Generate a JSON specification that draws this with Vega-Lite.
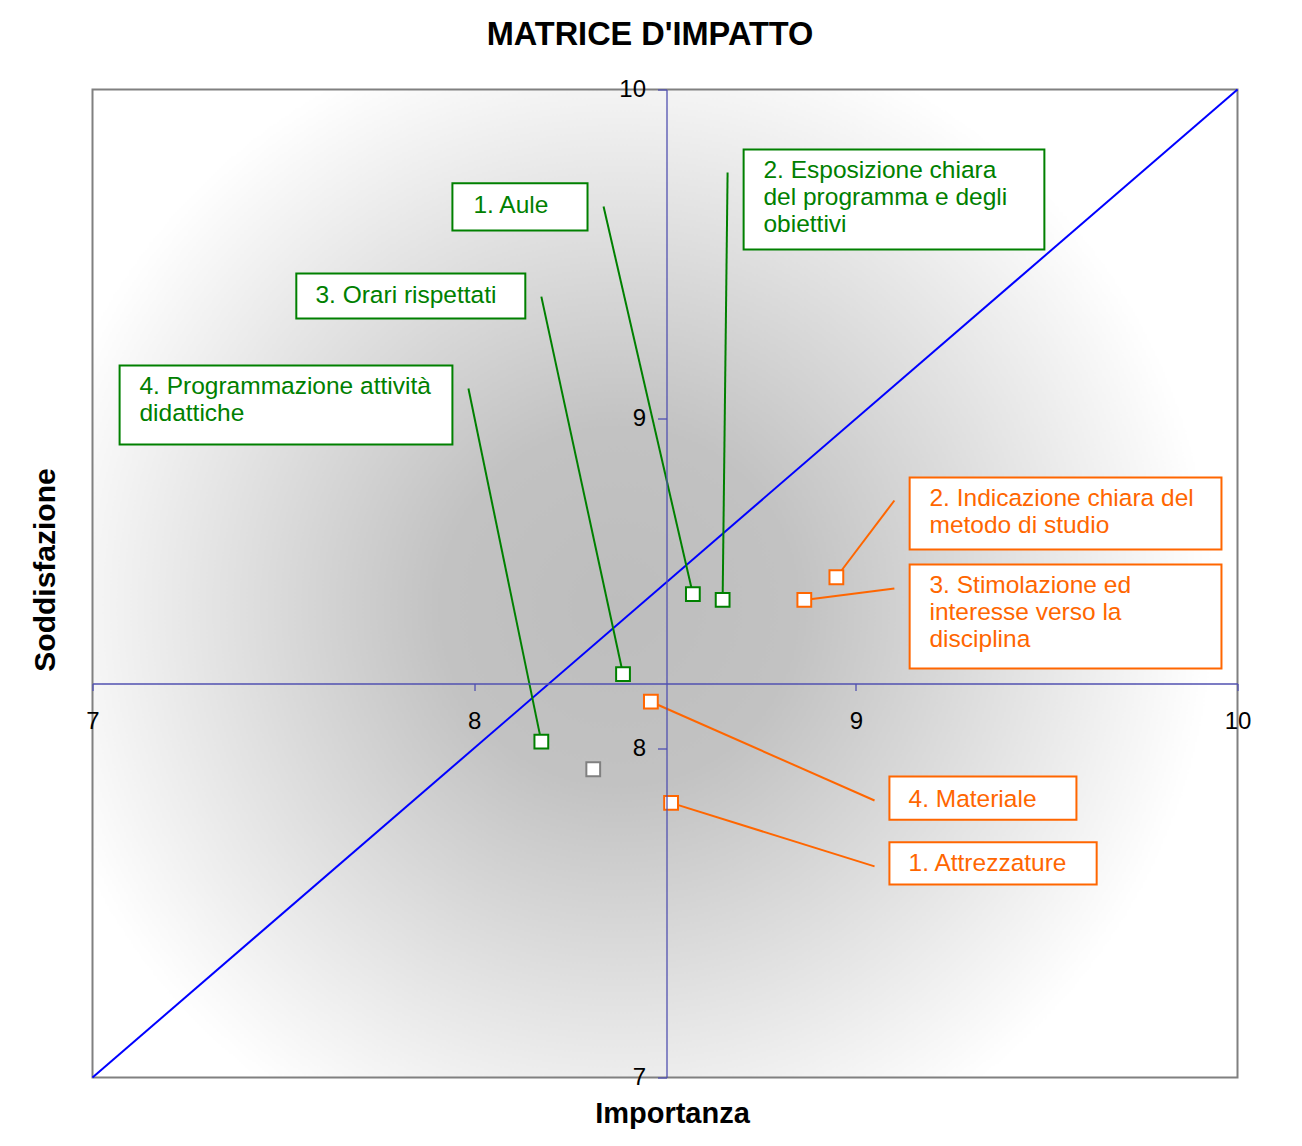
{
  "$schema": "https://vega.github.io/schema/vega-lite/v6.json",
  "width": 1145,
  "height": 988,
  "autosize": {"type": "none"},
  "padding": {"left": 92.5, "top": 89.5, "right": 64.5, "bottom": 68.5},
  "background": "white",
  "config": {"view": {"stroke": null}, "font": "Liberation Sans"},
  "title": {"text": "MATRICE D'IMPATTO", "fontSize": 32.5, "fontWeight": "bold", "font": "Liberation Sans", "color": "black", "frame": "group", "anchor": "middle", "dx": -15, "offset": 26},
  "datasets": {
    "points": [
      {"item": "1. Aule", "grp": "verde", "x": 8.573, "y": 8.468},
      {"item": "2. Esposizione", "grp": "verde", "x": 8.651, "y": 8.450},
      {"item": "3. Orari", "grp": "verde", "x": 8.390, "y": 8.225},
      {"item": "4. Programmazione", "grp": "verde", "x": 8.176, "y": 8.020},
      {"item": "altro", "grp": "grigio", "x": 8.312, "y": 7.936},
      {"item": "2. Indicazione", "grp": "arancio", "x": 8.949, "y": 8.519},
      {"item": "3. Stimolazione", "grp": "arancio", "x": 8.865, "y": 8.450},
      {"item": "4. Materiale", "grp": "arancio", "x": 8.463, "y": 8.141},
      {"item": "1. Attrezzature", "grp": "arancio", "x": 8.516, "y": 7.834}
    ],
    "labels": [
      {"grp": "verde", "text": "1. Aule", "tx": 7.998, "ty": 9.645, "bx1": 7.943, "bx2": 8.297, "by1": 9.715, "by2": 9.572, "lx": 8.339, "ly": 9.645, "px": 8.573, "py": 8.468},
      {"grp": "verde", "text": "2. Esposizione chiara\ndel programma e degli\nobiettivi", "tx": 8.758, "ty": 9.752, "bx1": 8.706, "bx2": 9.494, "by1": 9.818, "by2": 9.514, "lx": 8.664, "ly": 9.748, "px": 8.651, "py": 8.450},
      {"grp": "verde", "text": "3. Orari rispettati", "tx": 7.584, "ty": 9.374, "bx1": 7.534, "bx2": 8.134, "by1": 9.441, "by2": 9.305, "lx": 8.176, "ly": 9.371, "px": 8.390, "py": 8.225},
      {"grp": "verde", "text": "4. Programmazione attività\ndidattiche", "tx": 7.123, "ty": 9.096, "bx1": 7.071, "bx2": 7.943, "by1": 9.162, "by2": 8.922, "lx": 7.985, "ly": 9.092, "px": 8.176, "py": 8.020},
      {"grp": "arancio", "text": "2. Indicazione chiara del\nmetodo di studio", "tx": 9.193, "ty": 8.756, "bx1": 9.141, "bx2": 9.958, "by1": 8.822, "by2": 8.603, "lx": 9.101, "ly": 8.752, "px": 8.949, "py": 8.519},
      {"grp": "arancio", "text": "3. Stimolazione ed\ninteresse verso la\ndisciplina", "tx": 9.193, "ty": 8.492, "bx1": 9.141, "bx2": 9.958, "by1": 8.558, "by2": 8.242, "lx": 9.101, "ly": 8.485, "px": 8.865, "py": 8.450},
      {"grp": "arancio", "text": "4. Materiale", "tx": 9.138, "ty": 7.844, "bx1": 9.088, "bx2": 9.578, "by1": 7.914, "by2": 7.783, "lx": 9.049, "ly": 7.841, "px": 8.463, "py": 8.141},
      {"grp": "arancio", "text": "1. Attrezzature", "tx": 9.138, "ty": 7.647, "bx1": 9.088, "bx2": 9.631, "by1": 7.714, "by2": 7.586, "lx": 9.049, "ly": 7.641, "px": 8.516, "py": 7.834}
    ]
  },
  "layer": [
    {
      "data": {"values": [{"x": 7, "x2": 10, "y": 7, "y2": 10}]},
      "mark": {
        "type": "rect",
        "stroke": "#808080",
        "strokeWidth": 2,
        "fill": {"gradient": "radial", "x1": 0.46, "y1": 0.52, "r1": 0, "x2": 0.46, "y2": 0.52, "r2": 0.52,
          "stops": [{"offset": 0, "color": "#bdbdbd"}, {"offset": 0.3, "color": "#c2c2c2"}, {"offset": 1, "color": "#ffffff"}]}
      },
      "encoding": {
        "x": {"field": "x", "type": "quantitative",
          "scale": {"domain": [7, 10], "nice": false, "zero": false},
          "axis": {"orient": "bottom", "offset": -394, "values": [7, 8, 9, 10], "format": "d", "grid": false, "zindex": 1,
            "domainColor": "#5050b0", "domainWidth": 1.3, "tickColor": "#5050b0", "tickWidth": 1.3, "tickSize": 7,
            "labelFontSize": 24, "labelColor": "black", "labelFont": "Liberation Sans", "labelPadding": 19, "labelFlush": false, "labelOverlap": false,
            "title": "Importanza", "titleFontSize": 29, "titleFontWeight": "bold", "titleColor": "black", "titleFont": "Liberation Sans",
            "titleX": 579.5, "titleY": 439, "titleBaseline": "alphabetic", "titleAlign": "center"}},
        "x2": {"field": "x2"},
        "y": {"field": "y", "type": "quantitative",
          "scale": {"domain": [7, 10], "nice": false, "zero": false},
          "axis": {"orient": "left", "offset": -574, "values": [7, 8, 9, 10], "format": "d", "grid": false, "zindex": 1,
            "domainColor": "#5050b0", "domainWidth": 1.3, "tickColor": "#5050b0", "tickWidth": 1.3, "tickSize": 9,
            "labelFontSize": 24, "labelColor": "black", "labelFont": "Liberation Sans", "labelPadding": 12, "labelFlush": false, "labelOverlap": false, "labelBaseline": "middle",
            "title": "Soddisfazione", "titleFontSize": 30, "titleFontWeight": "bold", "titleColor": "black", "titleFont": "Liberation Sans",
            "titleAngle": -90, "titleX": -612, "titleY": 480, "titleBaseline": "alphabetic", "titleAlign": "center"}},
        "y2": {"field": "y2"}
      }
    },
    {
      "data": {"values": [{"x": 7, "y": 7, "x2": 10, "y2": 10}]},
      "mark": {"type": "rule", "color": "#0000ff", "strokeWidth": 2},
      "encoding": {
        "x": {"field": "x", "type": "quantitative"},
        "y": {"field": "y", "type": "quantitative"},
        "x2": {"field": "x2"},
        "y2": {"field": "y2"}
      }
    },
    {
      "data": {"name": "labels"},
      "mark": {"type": "rule", "strokeWidth": 2},
      "encoding": {
        "x": {"field": "lx", "type": "quantitative"},
        "y": {"field": "ly", "type": "quantitative"},
        "x2": {"field": "px"},
        "y2": {"field": "py"},
        "color": {"field": "grp", "type": "nominal", "scale": {"domain": ["verde", "arancio", "grigio"], "range": ["#008000", "#ff6600", "#808080"]}, "legend": null}
      }
    },
    {
      "data": {"name": "points"},
      "mark": {"type": "square", "fill": "white", "fillOpacity": 1, "size": 190, "strokeWidth": 2, "opacity": 1},
      "encoding": {
        "x": {"field": "x", "type": "quantitative"},
        "y": {"field": "y", "type": "quantitative"},
        "stroke": {"field": "grp", "type": "nominal", "scale": {"domain": ["verde", "arancio", "grigio"], "range": ["#008000", "#ff6600", "#808080"]}, "legend": null}
      }
    },
    {
      "data": {"name": "labels"},
      "mark": {"type": "rect", "fill": "white", "strokeWidth": 2},
      "encoding": {
        "x": {"field": "bx1", "type": "quantitative"},
        "x2": {"field": "bx2"},
        "y": {"field": "by1", "type": "quantitative"},
        "y2": {"field": "by2"},
        "stroke": {"field": "grp", "type": "nominal", "scale": {"domain": ["verde", "arancio", "grigio"], "range": ["#008000", "#ff6600", "#808080"]}, "legend": null}
      }
    },
    {
      "data": {"name": "labels"},
      "mark": {"type": "text", "align": "left", "baseline": "middle", "fontSize": 24.5, "font": "Liberation Sans", "lineBreak": "\n", "lineHeight": 27},
      "encoding": {
        "x": {"field": "tx", "type": "quantitative"},
        "y": {"field": "ty", "type": "quantitative"},
        "text": {"field": "text"},
        "color": {"field": "grp", "type": "nominal", "scale": {"domain": ["verde", "arancio", "grigio"], "range": ["#008000", "#ff6600", "#808080"]}, "legend": null}
      }
    }
  ]
}
